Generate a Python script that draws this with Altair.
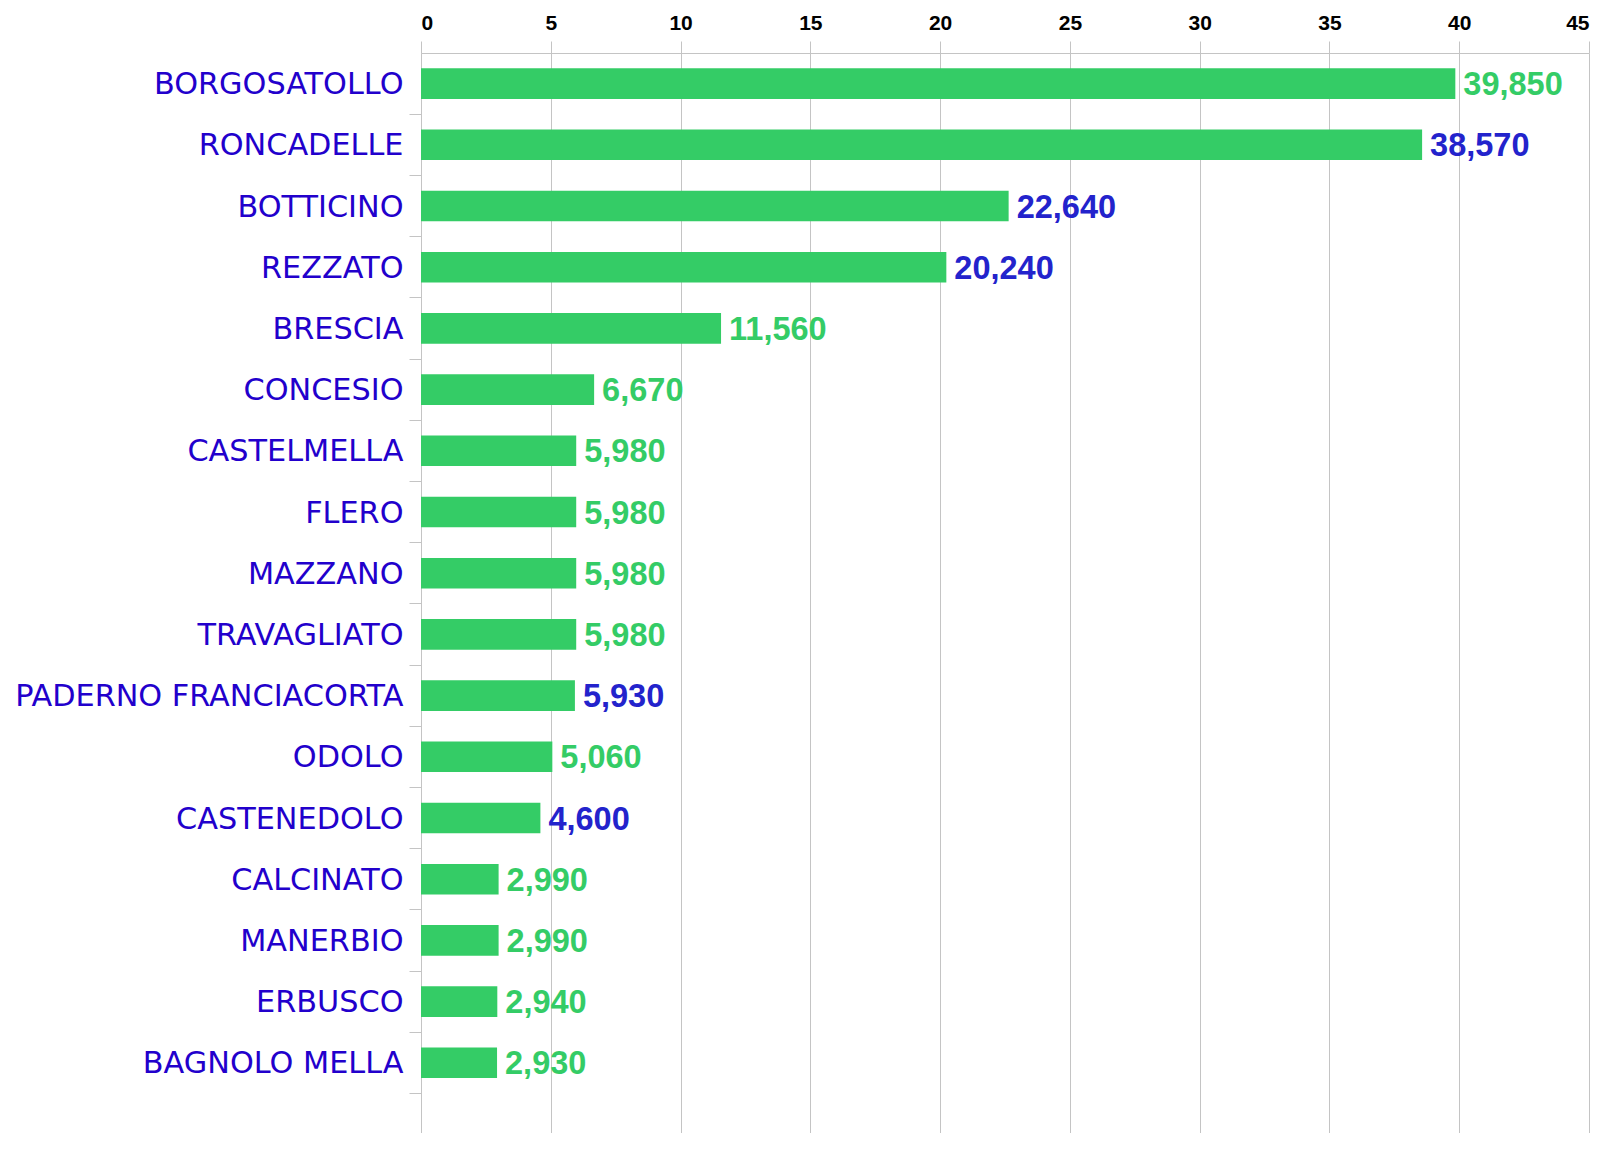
import altair as alt
import pandas as pd

comuni = ["BORGOSATOLLO", "RONCADELLE", "BOTTICINO", "REZZATO", "BRESCIA", "CONCESIO",
          "CASTELMELLA", "FLERO", "MAZZANO", "TRAVAGLIATO", "PADERNO FRANCIACORTA",
          "ODOLO", "CASTENEDOLO", "CALCINATO", "MANERBIO", "ERBUSCO", "BAGNOLO MELLA"]
valori = [39.850, 38.570, 22.640, 20.240, 11.560, 6.670, 5.980, 5.980, 5.980, 5.980,
          5.930, 5.060, 4.600, 2.990, 2.990, 2.940, 2.930]
gruppo = ["A", "B", "B", "B", "A", "A", "A", "A", "A", "A", "B", "A", "B", "A", "A", "A", "A"]
x_ticks = [0, 5, 10, 15, 20, 25, 30, 35, 40, 45]

df = pd.DataFrame({"comune": comuni, "valore": valori, "gruppo": gruppo})

GREEN = "#34CC66"
BLUE_LBL = "#2200CC"
BLUE_VAL = "#2323CC"
GRID = "#C4C4C4"

y_enc = alt.Y(
    "comune:N",
    sort=comuni,
    scale=alt.Scale(paddingInner=0, paddingOuter=0.3235, align=0),
    axis=alt.Axis(
        title=None,
        bandPosition=1,
        tickSize=12,
        tickColor=GRID,
        domainColor=GRID,
        labelPadding=6,
        labelOffset=1.5,
        labelFont="DejaVu Sans",
        labelFontSize=30.3,
        labelColor=BLUE_LBL,
        labelLimit=0,
        grid=False,
    ),
)

x_enc = alt.X(
    "valore:Q",
    scale=alt.Scale(domain=[0, 45], nice=False, zero=True),
    axis=alt.Axis(
        title=None,
        orient="top",
        values=x_ticks,
        format="d",
        tickSize=12,
        tickColor=GRID,
        domainColor=GRID,
        gridColor=GRID,
        grid=True,
        labelPadding=12,
        labelBaseline="alphabetic",
        labelFont="Liberation Sans",
        labelFontWeight="bold",
        labelFontSize=21,
        labelColor="#000000",
        labelFlush=True,
    ),
)

bars = alt.Chart(df).mark_bar(height={"band": 0.5}, color=GREEN).encode(x=x_enc, y=y_enc)

labels = alt.Chart(df).transform_calculate(
    etichetta="replace(format(datum.valore, '.3f'), '.', ',')"
).mark_text(
    align="left", baseline="middle", dx=8, dy=1.5, font="Liberation Sans", fontWeight="bold", fontSize=32.5
).encode(
    x=alt.X("valore:Q"),
    y=alt.Y("comune:N", sort=comuni),
    text="etichetta:N",
    color=alt.Color("gruppo:N", scale=alt.Scale(domain=["A", "B"], range=[GREEN, BLUE_VAL]), legend=None),
)

chart = alt.layer(bars, labels).properties(
    width=1168, height=1080,
    autosize=alt.AutoSizeParams(type="none"),
    padding={"left": 413, "top": 45, "right": 4, "bottom": 0},
    background="white",
).configure_view(stroke=None)

chart.save("out.html", embed_options={"renderer": "svg", "actions": False})
